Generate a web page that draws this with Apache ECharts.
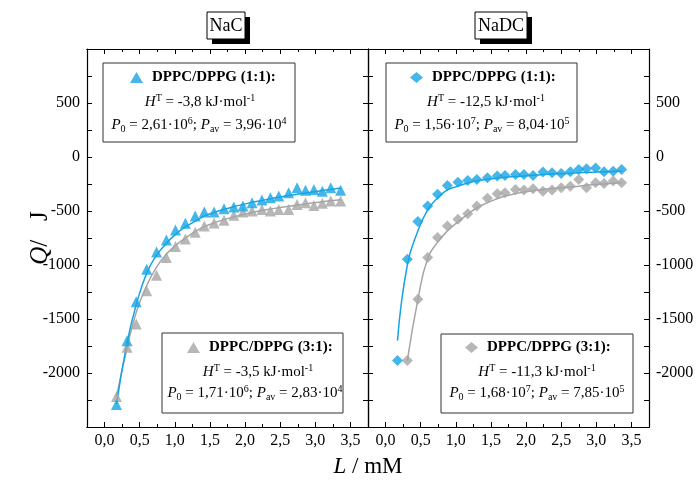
<!DOCTYPE html>
<html>
<head>
<meta charset="utf-8">
<script src="https://cdn.jsdelivr.net/npm/echarts@6/dist/echarts.min.js"></script>
<style>html,body{margin:0;padding:0;background:#fff}#c{width:700px;height:481px}</style>
</head>
<body>
<div id="c"></div>
<script>
// ---- data ----
const xTickLabels = [0, 0.5, 1, 1.5, 2, 2.5, 3, 3.5];
const xMinorTicks = [0.25, 0.75, 1.25, 1.75, 2.25, 2.75, 3.25];

// NaC panel
const xNaC = [0.17,0.32,0.45,0.60,0.74,0.88,1.01,1.15,1.29,1.42,1.56,1.70,1.84,1.97,2.10,2.24,2.36,2.48,2.62,2.74,2.86,2.98,3.10,3.22,3.36];
const nac11 = [-2292,-1701,-1341,-1039,-879,-768,-676,-614,-546,-510,-510,-479,-463,-454,-423,-399,-377,-362,-331,-284,-307,-300,-316,-284,-307];
const nac31 = [-2218,-1762,-1547,-1239,-1094,-931,-829,-760,-697,-639,-610,-585,-540,-510,-500,-485,-500,-485,-485,-439,-423,-448,-429,-408,-408];
const nac11Fit = [-2290,-1720,-1370,-1075,-910,-800,-716,-648,-594,-548,-513,-485,-460,-440,-420,-402,-386,-372,-357,-345,-333,-322,-311,-300,-288];
const nac31Fit = [-2220,-1770,-1440,-1190,-1020,-900,-820,-750,-690,-645,-610,-580,-555,-533,-513,-496,-482,-470,-457,-446,-435,-424,-414,-404,-395];

// NaDC panel
const xNaDC11 = [0.17,0.31,0.46,0.60,0.74,0.88,1.03,1.17,1.30,1.45,1.59,1.70,1.85,1.97,2.10,2.24,2.37,2.50,2.63,2.75,2.86,2.99,3.11,3.24,3.36];
const nadc11 = [-1885,-946,-598,-454,-346,-263,-233,-217,-208,-192,-177,-171,-161,-161,-171,-140,-146,-152,-137,-115,-109,-103,-137,-131,-115];
const nadc11Fit = [-1700,-1000,-685,-490,-380,-305,-270,-240,-220,-206,-195,-188,-180,-175,-169,-163,-158,-154,-150,-146,-143,-140,-137,-134,-131];
const xNaDC31 = [0.31,0.46,0.60,0.74,0.88,1.03,1.17,1.30,1.45,1.59,1.70,1.85,1.97,2.10,2.24,2.37,2.50,2.63,2.75,2.86,2.99,3.11,3.24,3.36];
const nadc31 = [-1885,-1316,-931,-746,-639,-577,-525,-454,-383,-340,-331,-300,-306,-294,-316,-306,-284,-270,-208,-284,-238,-245,-223,-238];
const nadc31Fit = [-1885,-1320,-940,-790,-685,-600,-530,-470,-423,-386,-362,-340,-325,-312,-300,-292,-285,-278,-270,-262,-255,-249,-243,-238];

const name11 = 'DPPC/DPPG (1:1):';
const name31 = 'DPPC/DPPG (3:1):';

// ---- styling ----
const BLUE = '#15a4e3';
const GRAY = '#a5a5a5';
const FONT = 'Liberation Serif';

const pairs = (xs, ys) => xs.map((x, i) => [x, ys[i]]);

function makeX(grid, position, major) {
  return {
    type: 'value', gridIndex: grid, position: position,
    min: -0.25, max: 3.75, interval: 0.25,
    axisLine: {show: true, onZero: false, lineStyle: {color: '#000', width: 1.2}},
    axisTick: {show: true, inside: true, length: major ? 5 : 3,
      customValues: major ? xTickLabels : xMinorTicks,
      lineStyle: {color: '#000', width: 1}},
    axisLabel: {show: major && position === 'bottom', customValues: xTickLabels,
      formatter: v => v.toFixed(1).replace('.', ','),
      fontFamily: FONT, fontSize: 16, color: '#000', margin: 6},
    splitLine: {show: false}
  };
}
function makeY(grid, position, labels, extra) {
  return Object.assign({
    type: 'value', gridIndex: grid, position: position,
    min: -2500, max: 1000, interval: 500,
    axisLine: {show: true, onZero: false, lineStyle: {color: '#000', width: 1.2}},
    axisTick: {show: true, inside: true, length: 5, lineStyle: {color: '#000'}},
    minorTick: {show: true, splitNumber: 2, length: 5, lineStyle: {color: '#000'}},
    axisLabel: {show: labels, formatter: v => (v === 1000 || v === -2500) ? '' : String(v),
      fontFamily: FONT, fontSize: 16, color: '#000', margin: 7},
    splitLine: {show: false}, minorSplitLine: {show: false}
  }, extra || {});
}

const richTxt = {
  n: {fontFamily: FONT, fontSize: 15, lineHeight: 18, fill: '#000'},
  i: {fontFamily: FONT, fontSize: 15, fontStyle: 'italic', lineHeight: 18, fill: '#000'},
  sup: {fontFamily: FONT, fontSize: 10, lineHeight: 10, verticalAlign: 'top', fill: '#000'},
  sub: {fontFamily: FONT, fontSize: 10, lineHeight: 10, verticalAlign: 'bottom', fill: '#000'}
};
function txt(x, y, s) {
  return {type: 'text', x: x, y: y, z: 4,
    style: {text: s, rich: richTxt, fontFamily: FONT, fontSize: 15, lineHeight: 18,
      fill: '#000', align: 'center', verticalAlign: 'middle'}};
}
function box(x, y, w, h) {
  return {type: 'rect', z: 3, shape: {x: x, y: y, width: w, height: h},
    style: {fill: '#fff', stroke: '#333', lineWidth: 1}};
}
function titleBox(x, y, w, h, label) {
  return [
    {type: 'rect', z: 3, shape: {x: x + 5, y: y + 5, width: w, height: h}, style: {fill: '#000'}},
    {type: 'rect', z: 3, shape: {x: x, y: y, width: w, height: h}, style: {fill: '#fff', stroke: '#000', lineWidth: 1}},
    {type: 'text', z: 4, x: x + w / 2, y: y + h / 2 + 1,
      style: {text: label, fontFamily: FONT, fontSize: 18, fill: '#000', align: 'center', verticalAlign: 'middle'}}
  ];
}
function legendAt(left, top, name, icon) {
  return {data: [{name: name, icon: icon}], left: left, top: top, padding: 0,
    itemWidth: 13, itemHeight: 11, itemGap: 0, selectedMode: false, z: 6,
    textStyle: {fontFamily: FONT, fontWeight: 'bold', fontSize: 15, color: '#000', padding: [0, 0, 0, 4]}};
}

const option = {
  animation: false,
  backgroundColor: '#fff',
  grid: [
    {left: 87, top: 49, width: 281, height: 378},
    {left: 368, top: 49, width: 281, height: 378}
  ],
  xAxis: [
    makeX(0, 'bottom', false), makeX(0, 'bottom', true), makeX(0, 'top', false), makeX(0, 'top', true),
    makeX(1, 'bottom', false), makeX(1, 'bottom', true), makeX(1, 'top', false), makeX(1, 'top', true)
  ],
  yAxis: [
    makeY(0, 'left', true, {
      name: '{i|Q}{n|/   J}', nameLocation: 'middle', nameRotate: 90, nameGap: 34,
      nameMoveOverlap: false,
      nameTextStyle: {rich: {
        i: {fontFamily: FONT, fontSize: 25, fontStyle: 'italic', color: '#000'},
        n: {fontFamily: FONT, fontSize: 25, color: '#000'}}}
    }),
    makeY(0, 'right', false),
    makeY(1, 'left', false),
    makeY(1, 'right', true)
  ],
  legend: [
    legendAt(130, 70, name11, 'triangle'),
    legendAt(410, 70, name11, 'diamond'),
    legendAt(187, 340, name31, 'triangle'),
    legendAt(465, 340, name31, 'diamond')
  ],
  graphic: [
    box(103, 63, 192, 79),
    txt(200, 102, '{i|H}{sup|T} = -3,8 kJ·mol{sup|-1}'),
    txt(199, 125, '{i|P}{sub|0} = 2,61·10{sup|6}; {i|P}{sub|av} = 3,96·10{sup|4}'),
    box(386, 63, 191, 79),
    txt(486, 102, '{i|H}{sup|T} = -12,5 kJ·mol{sup|-1}'),
    txt(482, 125, '{i|P}{sub|0} = 1,56·10{sup|7}; {i|P}{sub|av} = 8,04·10{sup|5}'),
    box(162, 333, 181, 80),
    txt(258, 372, '{i|H}{sup|T} = -3,5 kJ·mol{sup|-1}'),
    txt(255, 393, '{i|P}{sub|0} = 1,71·10{sup|6}; {i|P}{sub|av} = 2,83·10{sup|4}'),
    box(441, 334, 192, 79),
    txt(537, 372, '{i|H}{sup|T} = -11,3 kJ·mol{sup|-1}'),
    txt(537, 393, '{i|P}{sub|0} = 1,68·10{sup|7}; {i|P}{sub|av} = 7,85·10{sup|5}'),
    ...titleBox(207, 12, 38, 27, 'NaC'),
    ...titleBox(475, 12, 52, 27, 'NaDC'),
    {type: 'text', z: 4, x: 368, y: 467,
      style: {text: '{i|L}{n| / mM}', align: 'center', verticalAlign: 'middle',
        rich: {i: {fontFamily: FONT, fontSize: 23, fontStyle: 'italic', fill: '#000'},
               n: {fontFamily: FONT, fontSize: 23, fill: '#000'}}}}
  ],
  series: [
    {name: 'fitNaC31', type: 'line', xAxisIndex: 0, yAxisIndex: 0, data: pairs(xNaC, nac31Fit),
      smooth: true, symbol: 'none', lineStyle: {color: GRAY, width: 1.5}, z: 2},
    {name: 'fitNaC11', type: 'line', xAxisIndex: 0, yAxisIndex: 0, data: pairs(xNaC, nac11Fit),
      smooth: true, symbol: 'none', lineStyle: {color: BLUE, width: 1.5}, z: 2},
    {name: name31, type: 'scatter', xAxisIndex: 0, yAxisIndex: 0, data: pairs(xNaC, nac31),
      symbol: 'triangle', symbolSize: 11, itemStyle: {color: GRAY}, z: 3},
    {name: name11, type: 'scatter', xAxisIndex: 0, yAxisIndex: 0, data: pairs(xNaC, nac11),
      symbol: 'triangle', symbolSize: 11, itemStyle: {color: BLUE}, z: 3},
    {name: 'fitNaDC31', type: 'line', xAxisIndex: 4, yAxisIndex: 2, data: pairs(xNaDC31, nadc31Fit),
      smooth: true, symbol: 'none', lineStyle: {color: GRAY, width: 1.5}, z: 2},
    {name: 'fitNaDC11', type: 'line', xAxisIndex: 4, yAxisIndex: 2, data: pairs(xNaDC11, nadc11Fit),
      smooth: true, symbol: 'none', lineStyle: {color: BLUE, width: 1.5}, z: 2},
    {name: name31, type: 'scatter', xAxisIndex: 4, yAxisIndex: 2, data: pairs(xNaDC31, nadc31),
      symbol: 'diamond', symbolSize: 11, itemStyle: {color: GRAY}, z: 3},
    {name: name11, type: 'scatter', xAxisIndex: 4, yAxisIndex: 2, data: pairs(xNaDC11, nadc11),
      symbol: 'diamond', symbolSize: 11, itemStyle: {color: BLUE}, z: 3}
  ]
};
const chart = echarts.init(document.getElementById('c'), null, {renderer: 'canvas'});
chart.setOption(option);
</script>
</body>
</html>
